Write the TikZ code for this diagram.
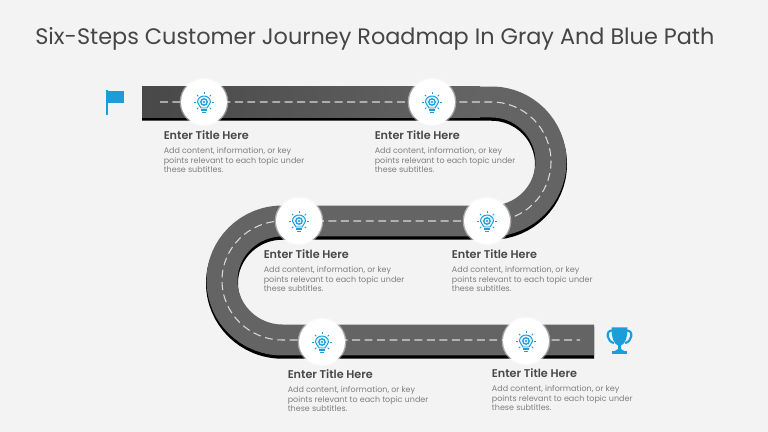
\documentclass[tikz,border=0pt]{standalone}
\usepackage{fontspec}
\setmainfont{Poppins}[BoldFont={Poppins SemiBold}]
\usepackage{tikz}
\usetikzlibrary{positioning,calc,shadows}
\definecolor{pagegray}{HTML}{F3F3F3}
\definecolor{roadgray}{HTML}{646464}
\definecolor{roaddark}{HTML}{484848}
\definecolor{dashgray}{HTML}{DADADA}
\definecolor{iconblue}{HTML}{1B9DD9}
\definecolor{titlegray}{HTML}{454545}
\definecolor{headgray}{HTML}{484848}
\definecolor{bodygray}{HTML}{7F7F7F}
\tikzset{
    stopdot/.style = {circle, fill=white, minimum size=0.92cm, inner sep=0pt},
    headtext/.style = {anchor=west, inner sep=0pt, text=headgray, font=\fontsize{6.4}{8}\selectfont\bfseries},
    bodytext/.style = {anchor=north west, inner sep=0pt, align=left, text=bodygray, font=\fontsize{4.56}{5.4}\selectfont},
    bulb/.pic = {
        \draw [iconblue, line width=0.55pt, fill=iconblue!12] (-3,6) .. controls (-3,4) and (-6.5,3) .. (-6.5,0) .. controls (-6.5,-3.6) and (-3.4,-6) .. (0,-6) .. controls (3.4,-6) and (6.5,-3.6) .. (6.5,0) .. controls (6.5,3) and (3,4) .. (3,6) -- cycle;
        \draw [iconblue, line width=0.7pt] (0,0) circle [radius=3.2];
        \fill [iconblue] (0,0) circle [radius=1.1];
        \draw [iconblue, line width=0.6pt] (-3,8) -- (3,8) (-2,10.5) -- (2,10.5);
        \foreach \a in {0,45,135,180,225,270,315}
            \draw [iconblue, line width=0.55pt] (\a:8) -- (\a:10);
    }
}
\newcommand{\roadpath}{(142,102) -- (491.5,102) arc [start angle=-90, end angle=90, radius=59.5] -- (282.5,221) arc [start angle=-90, end angle=-270, x radius=60.5, y radius=59.5] -- (594,340)}
\begin{document}
\begin{tikzpicture}[x=0.02cm, y=-0.02cm]
    \useasboundingbox (0,0) rectangle (768,432);
    \fill [pagegray] (0,0) rectangle (768,432);
    \node [anchor=west, inner sep=0pt, text=titlegray, font=\fontsize{12.73}{16}\selectfont] (heading) at (35,39) {Six-Steps Customer Journey Roadmap In Gray And Blue Path};
    % road
    \draw [black, line width=0.64cm, yshift=-0.055cm] \roadpath;
    \draw [roadgray, line width=0.62cm] \roadpath;
    \shade [left color=roaddark, right color=roadgray] (142,86.5) rectangle (480,117.5);
    \draw [dashgray, line width=0.6pt, dash pattern=on 4.5pt off 2.6pt]
        (160,102) -- (491.5,102) arc [start angle=-90, end angle=90, radius=59.5] -- (282.5,221) arc [start angle=-90, end angle=-270, x radius=60.5, y radius=59.5] -- (580,340);
    % stops
    \foreach \n/\x/\y in {a/204/102, b/432/102, c/299/221, d/487/221, e/322/342, f/526/341} {
        \node [stopdot, draw=white, draw opacity=0.45, line width=1.5pt] (stop\n) at (\x,\y) {};
        \pic at (\x,\y) {bulb};
    }
    % texts
    \foreach \n/\x/\y in {a/163.4/135, b/374.4/135, c/263.4/254, d/451.6/254, e/287.4/374, f/491.6/373} {
        \node [headtext] (head\n) at (\x,\y) {Enter Title Here};
        \node [bodytext] (body\n) at (\x,\y+12.5) {Add content, information, or key\\points relevant to each topic under\\these subtitles.};
    }
    % flag
    \fill [iconblue] (106,90.5) rectangle (108.3,115);
    \fill [iconblue] (108.3,91.5) -- (124,91.5) -- (124,103) -- (108.3,103) -- cycle;
    % trophy
    \draw [iconblue, line width=1.2pt] (612,330.5) .. controls (605,330.5) and (607,342) .. (614,343);
    \draw [iconblue, line width=1.2pt] (627,330.5) .. controls (634,330.5) and (632,342) .. (625,343);
    \fill [iconblue] (611.5,327.5) -- (627.5,327.5) .. controls (627.5,338) and (625,344) .. (621,345.5) -- (621,349) -- (625,351.5) -- (614,351.5) -- (618,349) -- (618,345.5) .. controls (614,344) and (611.5,338) .. (611.5,327.5) -- cycle;
    \fill [iconblue] (612,351.5) rectangle (627,354.5);
\end{tikzpicture}
\end{document}
